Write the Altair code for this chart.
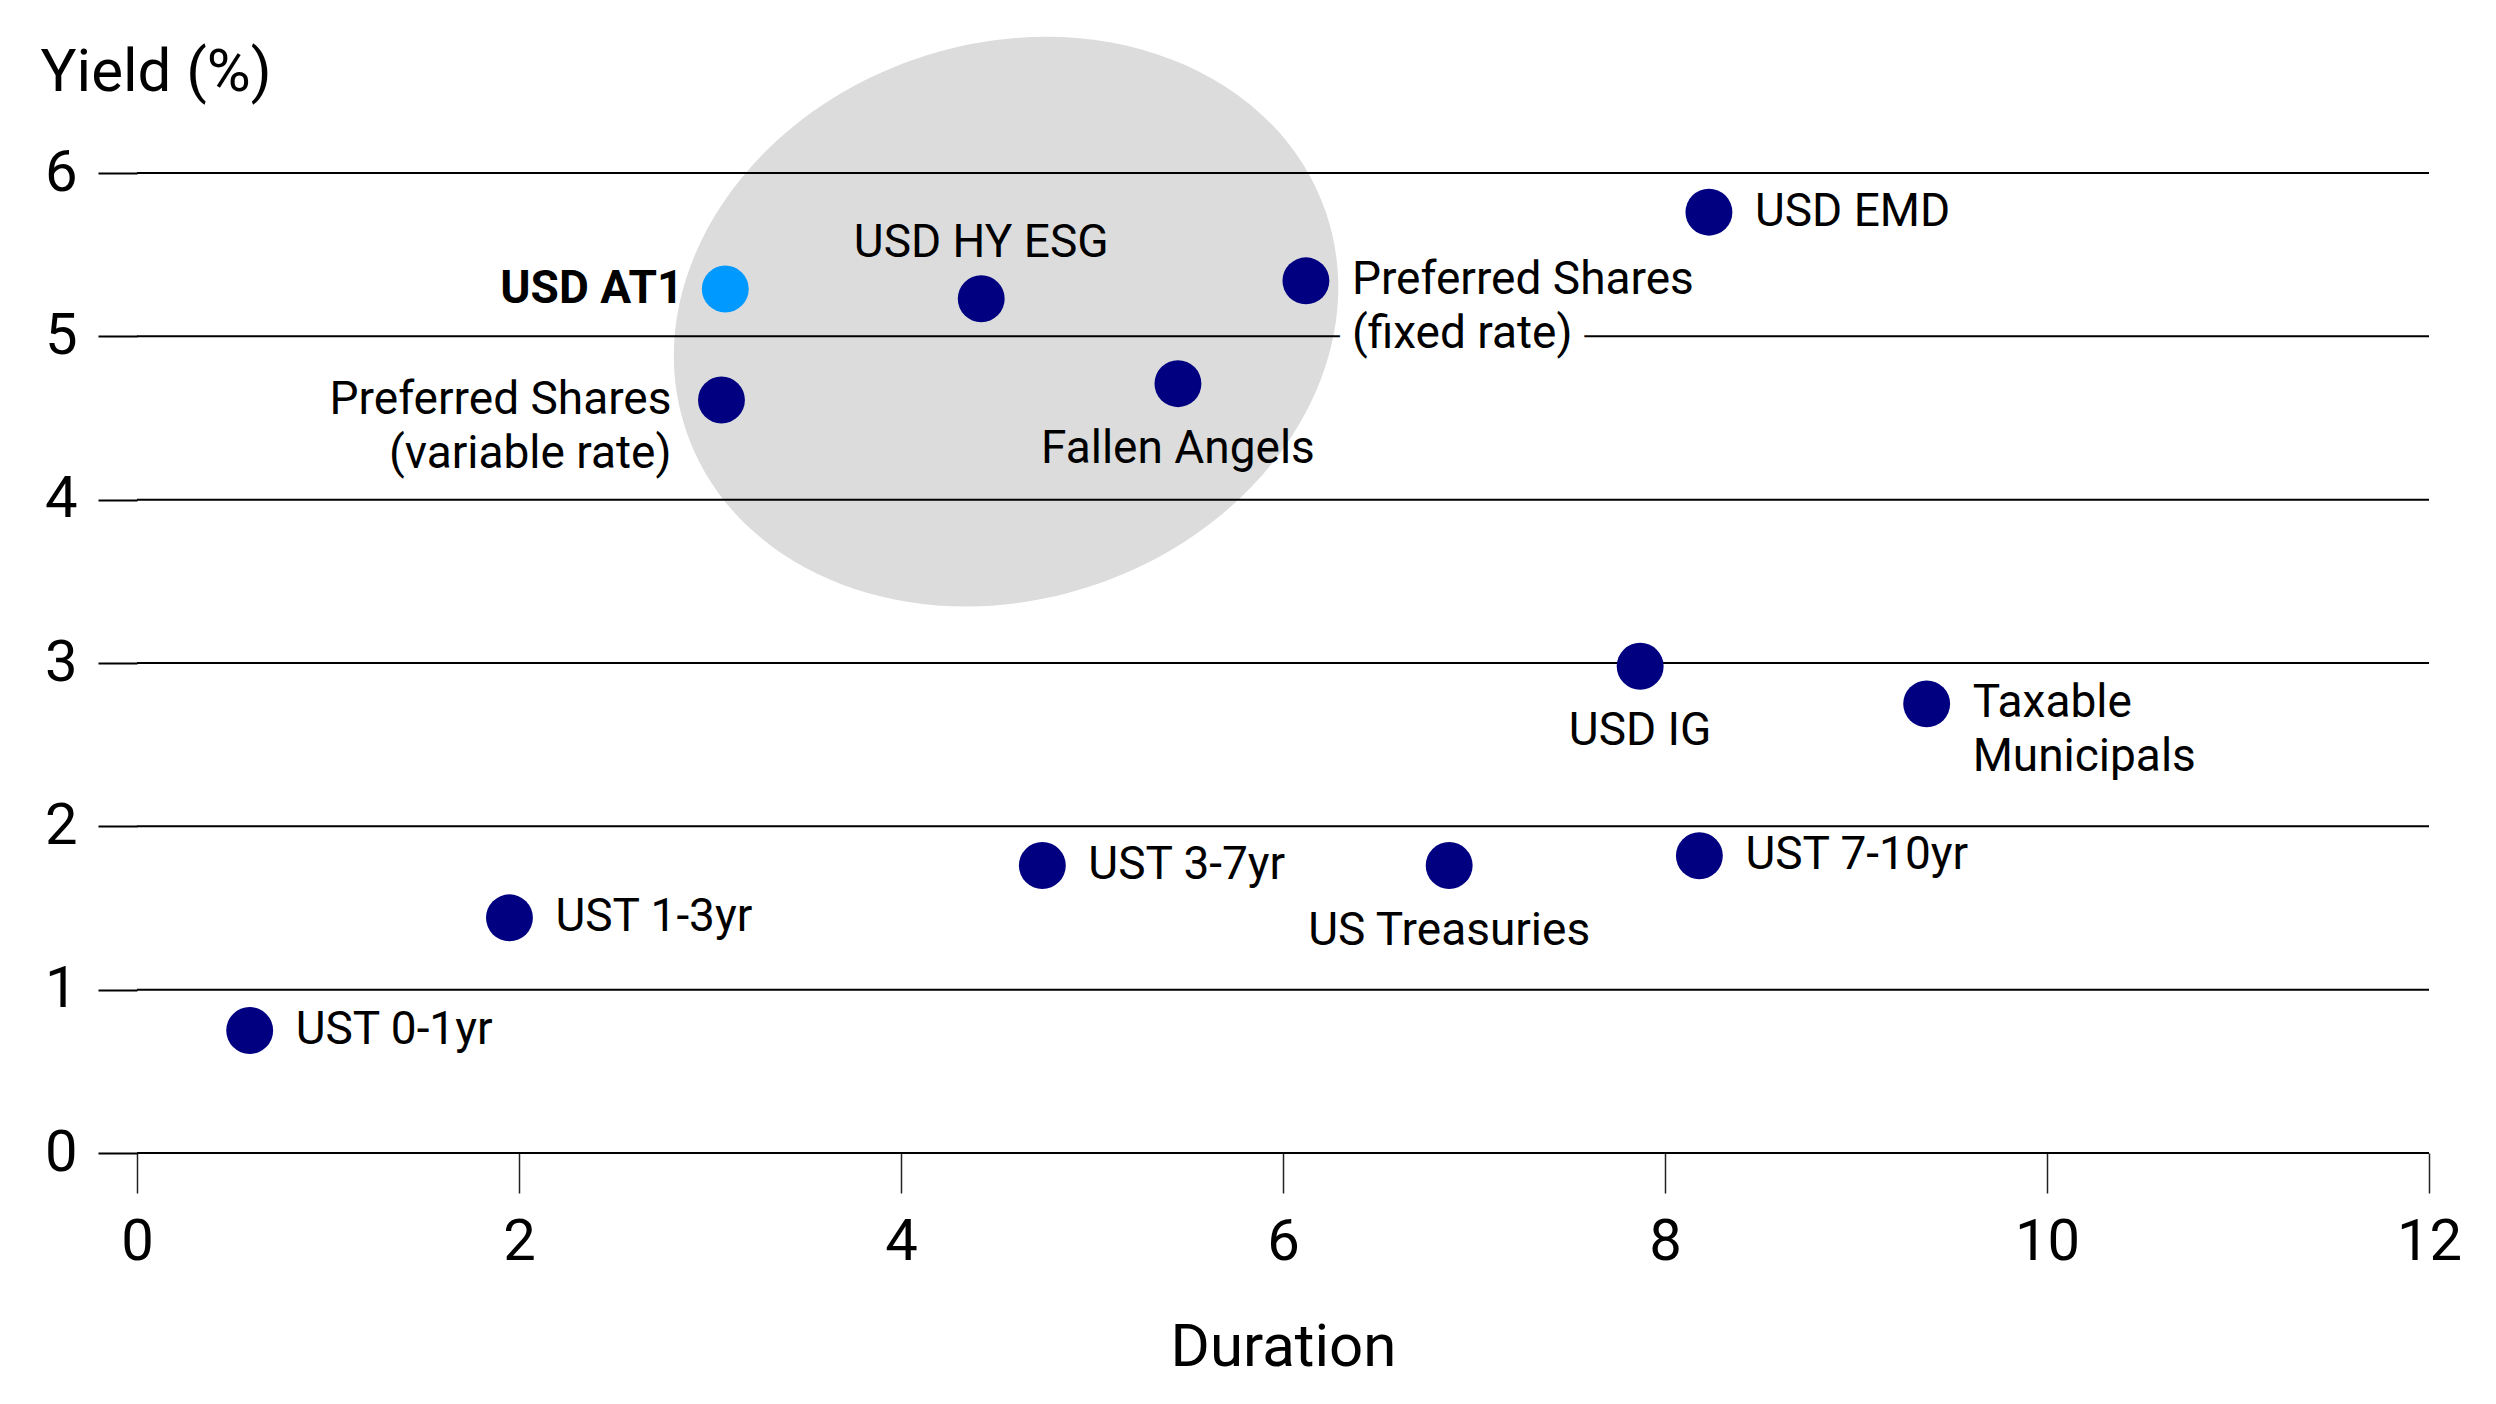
import altair as alt
import pandas as pd

# ---- data ----
names = [
    "UST 0-1yr", "UST 1-3yr", "USD AT1", "Preferred Shares\n(variable rate)",
    "USD HY ESG", "Fallen Angels", "Preferred Shares\n(fixed rate)", "UST 3-7yr",
    "US Treasuries", "USD IG", "UST 7-10yr", "USD EMD", "Taxable\nMunicipals",
]
duration = [0.59, 1.95, 3.08, 3.06, 4.42, 5.45, 6.12, 4.74, 6.87, 7.87, 8.18, 8.23, 9.37]
yields = [0.75, 1.44, 5.29, 4.61, 5.23, 4.71, 5.34, 1.76, 1.76, 2.98, 1.82, 5.76, 2.75]
placement = ["right", "right", "left", "left", "above", "below", "right", "right",
             "below", "below", "right", "right", "right"]
highlight_name = "USD AT1"

x_ticks = [0, 2, 4, 6, 8, 10, 12]
y_ticks = [0, 1, 2, 3, 4, 5, 6]

# shaded region around the higher-yield cluster
region_x = [4.55]
region_y = [5.09]

df = pd.DataFrame({"name": names, "duration": duration, "yield": yields, "place": placement})
grid_df = pd.DataFrame({"y": y_ticks, "x0": [x_ticks[0]] * len(y_ticks), "x1": [x_ticks[-1]] * len(y_ticks)})
region_df = pd.DataFrame({"x": region_x, "y": region_y})

W, H = 2292, 980
FONT = "Roboto"
LS = 46  # label font size

xs = alt.Scale(domain=[0, 12], nice=False)
ys = alt.Scale(domain=[0, 6], nice=False)

x_axis = alt.Axis(
    values=x_ticks, format="d", labelFlush=False, domain=False, grid=False, ticks=True,
    tickSize=40, tickColor="#222222", tickWidth=1.5, labelFontSize=58, labelFont=FONT,
    labelColor="black", labelPadding=20,
    title="Duration", titleFont=FONT, titleFontSize=60, titleFontWeight="normal", titleColor="black",
    titleBaseline="alphabetic", titleY=212,
)
y_axis = alt.Axis(
    values=y_ticks, format="d", labelFlush=False, domain=False, grid=False, ticks=True,
    tickSize=39, tickColor="black", tickWidth=2, labelFontSize=58, labelFont=FONT,
    labelColor="black", labelPadding=21,
    title="Yield (%)", titleFont=FONT, titleFontSize=60, titleFontWeight="normal", titleColor="black",
    titleAngle=0, titleAlign="left", titleBaseline="alphabetic", titleX=-97, titleY=-83,
)

# ellipse as a custom symbol (unit path, scaled by size, rotated)
k = 0.5523
r = 0.822
ell = (f"M -1 0 C -1 {-k*r:.4f} {-k} {-r} 0 {-r} C {k} {-r} 1 {-k*r:.4f} 1 0 "
       f"C 1 {k*r:.4f} {k} {r} 0 {r} C {-k} {r} -1 {k*r:.4f} -1 0 Z")

region = alt.Chart(region_df).mark_point(
    shape=ell, filled=True, fill="#dcdcdc", opacity=1, size=676 * 676, angle=341
).encode(x=alt.X("x:Q", scale=xs, axis=x_axis), y=alt.Y("y:Q", scale=ys, axis=y_axis))

grid = alt.Chart(grid_df).mark_rule(color="black", strokeWidth=2).encode(
    y=alt.Y("y:Q", scale=ys), x=alt.X("x0:Q", scale=xs), x2="x1:Q"
)

halo = alt.Chart(df).transform_filter(
    "indexof(datum.name, '(fixed rate)') >= 0"
).transform_calculate(
    line2="split(datum.name, '\\n')[1]"
).mark_text(
    align="left", baseline="top", dx=46, dy=-22.5 + 54, font=FONT, fontSize=LS,
    stroke="white", strokeWidth=30, fill="white", strokeJoin="round"
).encode(x=alt.X("duration:Q", scale=xs), y=alt.Y("yield:Q", scale=ys), text="line2:N")

dots = alt.Chart(df).mark_circle(size=2200, opacity=1).encode(
    x=alt.X("duration:Q", scale=xs),
    y=alt.Y("yield:Q", scale=ys),
    color=alt.condition(f"datum.name == '{highlight_name}'", alt.value("#0099ff"), alt.value("#000080")),
)

def labels(place, **kw):
    cond = f"datum.place == '{place}'"
    return alt.Chart(df).transform_filter(cond).transform_filter(
        f"datum.name != '{highlight_name}'"
    ).mark_text(font=FONT, fontSize=LS, color="black", lineBreak="\n", lineHeight=54, **kw).encode(
        x=alt.X("duration:Q", scale=xs), y=alt.Y("yield:Q", scale=ys), text="name:N"
    )

lab_right = labels("right", align="left", baseline="top", dx=46, dy=-22.5)
lab_left = labels("left", align="right", baseline="top", dx=-50, dy=-22.5)
lab_above = labels("above", align="center", baseline="middle", dy=-56)
lab_below = labels("below", align="center", baseline="middle", dy=65)

lab_hl = alt.Chart(df).transform_filter(f"datum.name == '{highlight_name}'").mark_text(
    font=FONT, fontSize=LS, fontWeight="bold", color="black", align="right", baseline="middle", dx=-42
).encode(x=alt.X("duration:Q", scale=xs), y=alt.Y("yield:Q", scale=ys), text="name:N")

chart = alt.layer(region, grid, halo, dots, lab_right, lab_left, lab_above, lab_below, lab_hl).properties(
    width=W, height=H,
    autosize=alt.AutoSizeParams(type="none"),
    padding={"left": 129, "top": 165, "right": 59, "bottom": 243},
    background="white",
).configure_view(stroke=None)

chart.save("out.html", embed_options={"renderer": "svg", "actions": False})
